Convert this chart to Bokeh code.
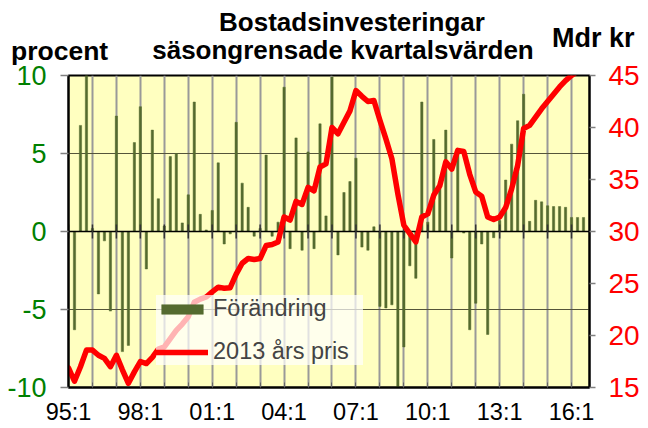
import math
from bokeh.plotting import figure
from bokeh.layouts import column
from bokeh.models import (Range1d, LinearAxis, FixedTicker, Legend, LegendItem, Div)
from bokeh.embed import file_html
from bokeh.resources import INLINE

nan = float("nan")

# ---- data -------------------------------------------------------------
years = list(range(1995, 2017))
quarters = [1, 2, 3, 4]

# Förändring (procent), one row per year, Q1..Q4
change = [
    nan, -6.3, 6.8, 10.0,     # 95
    0.2, -4.0, -0.6, -5.1,    # 96
    7.4, -7.7, -7.3, 5.7,     # 97
    8.0, -2.4, 6.5, 2.1,      # 98
    0.35, 4.8, 5.0, 0.55,     # 99
    2.35, 8.3, 1.1, 0.1,      # 00
    1.35, 4.4, -0.8, -0.15,   # 01
    7.0, 3.1, 1.55, -0.3,     # 02
    0.2, 4.9, -0.3, 0.6,      # 03
    9.25, -1.1, 6.0, -1.2,    # 04
    5.1, -1.1, 6.9, 1.0,      # 05
    9.9, -1.5, 2.5, 3.2,      # 06
    4.7, -1.0, -1.2, 0.3,     # 07
    -4.8, -4.9, -4.7, -10.2,  # 08
    -7.4, -2.2, -3.0, 8.3,    # 09
    0.6, 5.9, 3.1, 6.5,       # 10
    -1.7, 5.3, -0.1, -6.3,    # 11
    -4.6, -0.8, -6.6, -0.4,   # 12
    0.7, 3.3, 5.6, 7.1,       # 13
    8.8, 0.65, 2.0, 1.9,      # 14
    1.65, 1.6, 1.6, 1.55,     # 15
    0.9, 0.9, 0.9, nan,       # 16
]

# 2013 års pris (Mdr kr)
price = [
    16.9, 15.6, 17.0, 18.6,   # 95
    18.6, 18.1, 17.8, 17.0,   # 96
    18.1, 16.7, 15.4, 16.5,   # 97
    17.5, 17.3, 17.9, 18.7,   # 98
    18.9, 19.7, 20.5, 21.1,   # 99
    21.8, 23.2, 23.5, 23.7,   # 00
    24.2, 24.65, 24.55, 24.6, # 01
    25.9, 26.95, 27.4, 27.3,  # 02
    27.4, 28.65, 28.75, 29.0, # 03
    31.4, 31.1, 32.9, 32.6,   # 04
    34.25, 33.9, 36.2, 36.5,  # 05
    40.0, 39.4, 40.5, 41.6,   # 06
    43.55, 43.0, 42.5, 42.6,  # 07
    40.7, 38.9, 37.0, 33.6,   # 08
    30.6, 29.8, 29.0, 31.4,   # 09
    31.7, 33.5, 34.4, 36.7,   # 10
    36.0, 37.8, 37.7, 35.5,   # 11
    33.8, 33.4, 31.4, 31.15,  # 12
    31.4, 32.3, 34.1, 36.35,  # 13
    39.9, 40.2, 41.0, 41.8,   # 14
    42.5, 43.2, 43.9, 44.5,   # 15
    45.0, 45.4, 45.9, 46.3,   # 16
]

quarter_labels = [f"{y % 100:02d}:{q}" for y in years for q in quarters]
left_ticks = [-10, -5, 0, 5, 10]
right_ticks = [15, 20, 25, 30, 35, 40, 45]

title_lines = ["Bostadsinvesteringar", "säsongrensade kvartalsvärden"]
left_title = "procent"
right_title = "Mdr kr"
series_names = ["Förändring", "2013 års pris"]

FONT = "Liberation Sans"
BG = "#FFFFC0"
OLIVE = "#556B2F"
W = 648
H = 428
FRAME_TOP = 75
HEAD_H = 58          # height of the heading strip (its text may hang a few px lower)
SVG_H = 68

# ---- heading strip: SVG text in a Div above the chart -------------------
heading = [
    (title_lines[0], 352, 31, "middle", 26),
    (title_lines[1], 343, 59, "middle", 26),
    (left_title, 11, 60, "start", 26.5),
    (right_title, 552, 47, "start", 27),
]
svg_texts = "".join(
    f'<text x="{hx}" y="{hy}" text-anchor="{anc}" font-size="{fs}px">{txt}</text>'
    for txt, hx, hy, anc, fs in heading
)
head_svg = (f'<svg xmlns="http://www.w3.org/2000/svg" width="{W}" height="{SVG_H}" '
            f'style="display:block;overflow:visible" font-family="{FONT}" font-weight="bold" fill="black">'
            f'{svg_texts}</svg>')
head = Div(text=head_svg, width=W, height=HEAD_H, margin=0,
           styles={"margin": "0", "padding": "0", "overflow": "visible", "z-index": "0"})

# ---- main chart ---------------------------------------------------------
x = list(range(len(quarter_labels)))

p = figure(width=W, height=H - HEAD_H, output_backend="svg", toolbar_location=None,
           x_range=Range1d(x[0], x[-1]), y_range=Range1d(left_ticks[0], left_ticks[-1]),
           min_border_left=68, min_border_right=59, min_border_top=FRAME_TOP - HEAD_H,
           min_border_bottom=41, background_fill_color=BG,
           border_fill_color="white", border_fill_alpha=0, margin=0)
p.extra_y_ranges = {"pris": Range1d(right_ticks[0], right_ticks[-1])}
p.outline_line_color = "black"
p.outline_line_width = 2

year_ticks = x[::4]
xax = p.xaxis[0]
xax.ticker = FixedTicker(ticks=year_ticks)
xax.major_label_overrides = {t: (quarter_labels[t] if t % 12 == 0 else "") for t in year_ticks}
xax.major_label_text_font = FONT
xax.major_label_text_font_size = "23.5px"
xax.major_label_text_color = "black"
xax.major_tick_in = 5
xax.major_tick_out = 0
xax.minor_tick_line_color = None
xax.major_tick_line_color = "#666666"
xax.axis_line_width = 2
xax.axis_line_color = "black"
xax.major_label_standoff = 11

yax = p.yaxis[0]
yax.ticker = FixedTicker(ticks=left_ticks)
yax.major_label_overrides = {t: str(t) for t in left_ticks}
yax.major_label_text_font = FONT
yax.major_label_text_font_size = "27px"
yax.major_label_text_color = "#008000"
yax.major_tick_in = 0
yax.major_tick_out = 8
yax.major_tick_line_color = "#808080"
yax.major_tick_line_width = 1.5
yax.minor_tick_line_color = None
yax.axis_line_width = 2
yax.axis_line_color = "black"
yax.major_label_standoff = 14

rax = LinearAxis(y_range_name="pris", ticker=FixedTicker(ticks=right_ticks))
rax.major_label_overrides = {t: str(t) for t in right_ticks}
rax.major_label_text_font = FONT
rax.major_label_text_font_size = "28px"
rax.major_label_text_color = "#FF0000"
rax.major_tick_in = 0
rax.major_tick_out = 6
rax.major_tick_line_color = "#808080"
rax.major_tick_line_width = 1.5
rax.minor_tick_line_color = None
rax.axis_line_width = 2
rax.axis_line_color = "black"
rax.major_label_standoff = 13
p.add_layout(rax, "right")

p.xgrid[0].ticker = FixedTicker(ticks=year_ticks)
p.xgrid[0].grid_line_color = "#999999"
p.xgrid[0].grid_line_width = 2
p.ygrid[0].ticker = FixedTicker(ticks=[t for t in left_ticks if t not in (0, left_ticks[0], left_ticks[-1])])
p.ygrid[0].grid_line_color = "#55553A"
p.ygrid[0].grid_line_width = 1

bars = p.vbar(x=x, top=change, bottom=0, width=0.38, fill_color=OLIVE, line_color=OLIVE, line_width=0.5)

# zero line with crossing year ticks
p.line(x=[x[0], x[-1]], y=[0, 0], line_color="black", line_width=1.5)
p.segment(x0=year_ticks, y0=[-0.45] * len(year_ticks), x1=year_ticks, y1=[0.45] * len(year_ticks),
          line_color="#333333", line_width=1.5)

line = p.line(x=x, y=price, y_range_name="pris", line_color="#FF0000", line_width=5.5,
              line_join="round", line_cap="round")

legend = Legend(items=[LegendItem(label=series_names[0], renderers=[bars]),
                       LegendItem(label=series_names[1], renderers=[line])],
                location=(88, 22), background_fill_color="white", background_fill_alpha=0.7,
                border_line_color=None, label_text_font=FONT, label_text_font_size="23.5px",
                glyph_width=52, glyph_height=12, label_standoff=5, spacing=16, padding=10,
                label_width=150, margin=0)
p.add_layout(legend)

layout = column(head, p, spacing=0, margin=0)
open("out.html", "w").write(file_html(layout, INLINE))
